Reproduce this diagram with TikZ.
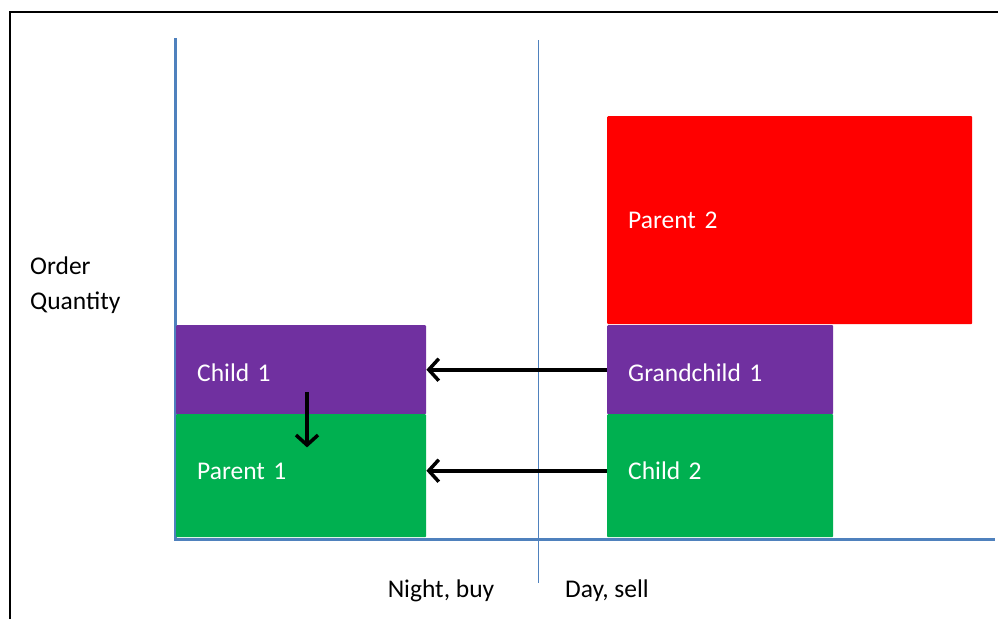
\documentclass[tikz,border=0pt]{standalone}
\usepackage{fontspec}
\setmainfont{Carlito}
\usetikzlibrary{arrows.meta}
\definecolor{axisblue}{RGB}{79,129,189}
\definecolor{kidpurple}{RGB}{112,48,160}
\definecolor{parentgreen}{RGB}{0,176,80}
\definecolor{parentred}{RGB}{255,0,0}

\tikzset{
  block/.style={anchor=north west, rounded corners=1pt, inner xsep=21pt, inner ysep=0pt,
    align=left, text=white, font=\fontsize{25.5}{30}\selectfont},
  lower/.style={text height=24pt, text depth=0pt},
  upper/.style={text height=17pt, text depth=9pt},
  axisline/.style={draw=axisblue, line width=3pt},
  arr/.style={draw=black, line width=4pt, -{Straight Barb[length=10pt,width=22pt,line width=3.5pt]}},
  caption/.style={font=\fontsize{25.5}{35}\selectfont, inner sep=0pt}
}

\begin{document}
\begin{tikzpicture}[x=1pt,y=-1pt]
\useasboundingbox (0,0) rectangle (998,619);

% frame
\draw[line width=1.5pt] (10,619) -- (10,12) -- (998,12);

% axes and divider
\draw[axisline] (175,38) -- (175,539) -- (995,539);
\draw[axisblue, line width=1pt] (538,40) -- (538,583);

% night side
\node[block, lower, fill=kidpurple, text width=208pt, minimum height=89pt] (c1) at (176,325) {Child 1};
\node[block, upper, fill=parentgreen, text width=208pt, minimum height=123pt] (p1) at (176,414) {Parent 1};

% day side
\node[block, fill=parentred, text width=323pt, minimum height=208pt] (p2) at (607,116) {Parent 2};
\node[block, lower, fill=kidpurple, text width=184pt, minimum height=89pt] (gc1) at (607,325) {Grandchild 1};
\node[block, upper, fill=parentgreen, text width=184pt, minimum height=123pt] (c2) at (607,414) {Child 2};

% moves
\draw[arr] (gc1.west) -- (c1.east);
\draw[arr] ([yshift=5pt]c2.west) -- ([yshift=5pt]p1.east);
\draw[arr] ([shift={(131pt,22pt)}]c1.south west) -- ([shift={(131pt,-33pt)}]c1.south west);

% labels
\node[caption, anchor=west, align=left] (qty) at (30,285) {Order\\Quantity};
\node[caption] (night) at (441,591) {Night, buy};
\node[caption] (day) at (607,591) {Day, sell};

\end{tikzpicture}
\end{document}
